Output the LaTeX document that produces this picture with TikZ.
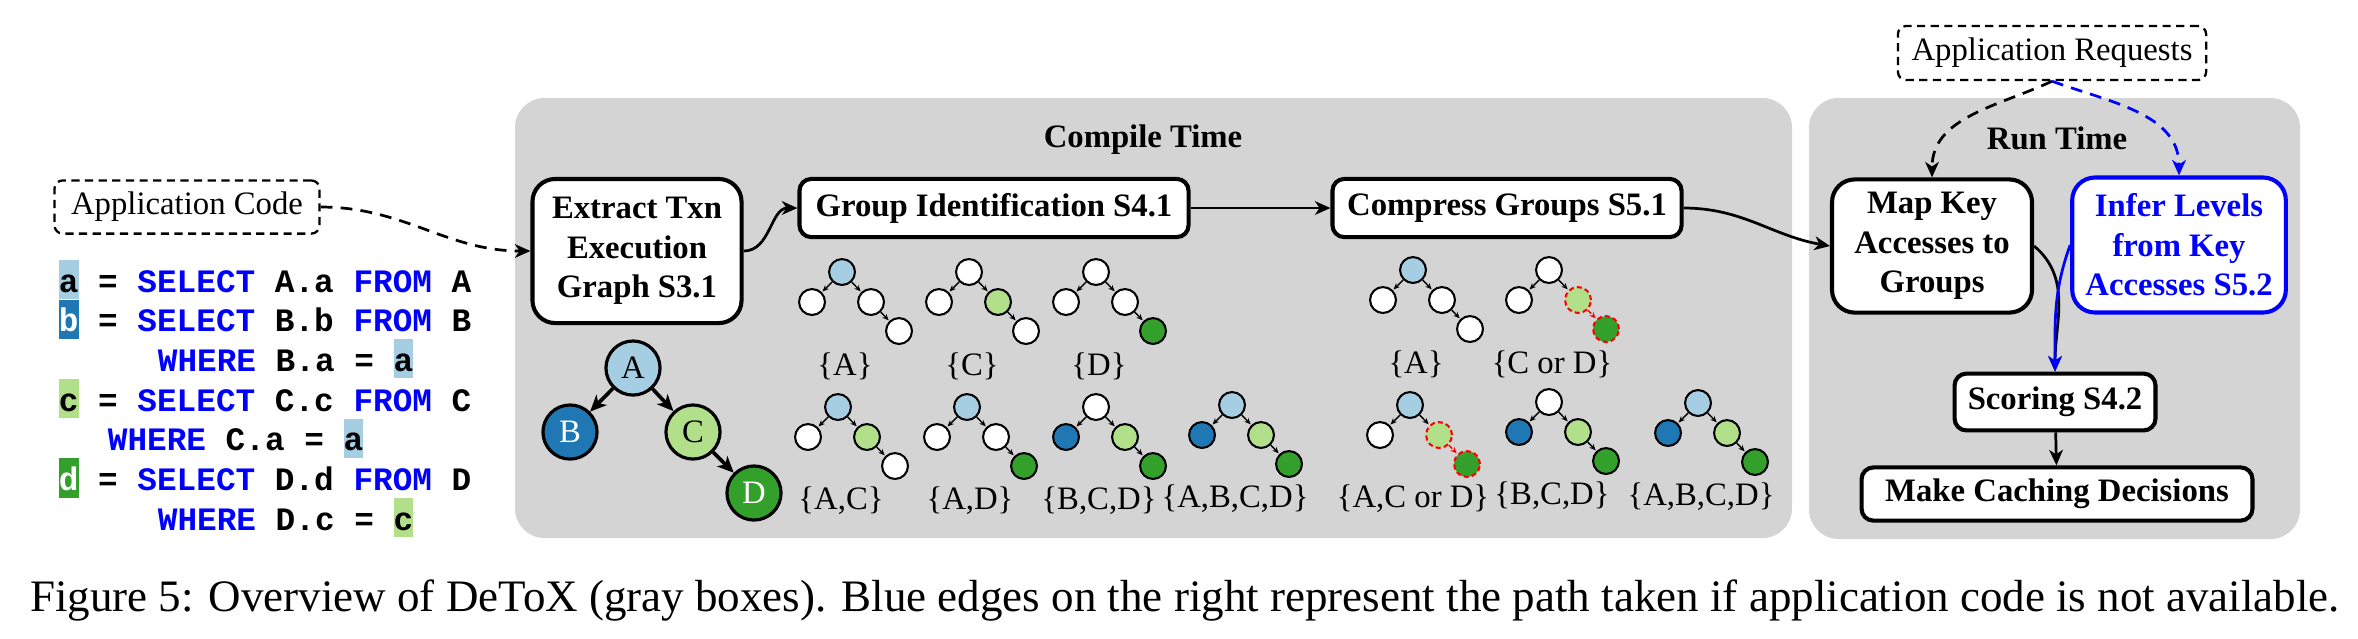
\documentclass[tikz,border=0pt]{standalone}
\usepackage{fontspec}
\setmainfont{Liberation Serif}
\setmonofont{Liberation Mono}
\usetikzlibrary{arrows.meta}

\definecolor{ablue}{HTML}{A6CEE3}
\definecolor{bblue}{HTML}{1F78B4}
\definecolor{cgreen}{HTML}{B2DF8A}
\definecolor{dgreen}{HTML}{33A02C}
\definecolor{panelgray}{HTML}{D4D4D4}

\newcommand{\sqlkw}[1]{\textcolor{blue}{#1}}
\newcommand{\hlbox}[2]{{\setlength{\fboxsep}{0pt}\colorbox{#1}{\rule[-1.55pt]{0pt}{8.6pt}#2}}}

\tikzset{
    stepbox/.style = {draw, line width = 0.9pt, rounded corners = 2.6pt, fill = white,
        align = center, inner sep = 1pt, font = \bfseries\fontsize{7.2}{8.7}\selectfont},
    dashbox/.style = {draw, line width = 0.5pt, dash pattern = on 1.8pt off 1.2pt,
        rounded corners = 1.8pt, fill = white, inner sep = 1pt, font = \fontsize{7.2}{8.7}\selectfont},
    arr/.style = {line width = 0.6pt, -{Stealth[length = 3.4pt, width = 3pt, inset = 1pt]}},
    dasharr/.style = {arr, dash pattern = on 2.6pt off 1.8pt},
    bignode/.style = {circle, draw, line width = 0.7pt, minimum size = 11.9pt, inner sep = 0pt,
        font = \fontsize{7.2}{8.7}\selectfont},
    bigarr/.style = {line width = 0.8pt, -{Stealth[length = 3.6pt, width = 3.2pt, inset = 1pt]}},
    tinynode/.style = {circle, draw, line width = 0.45pt, minimum size = 5.7pt, inner sep = 0pt},
    tinyarr/.style = {line width = 0.3pt, -{Stealth[length = 1.4pt, width = 1.2pt]}, shorten >= 0.2pt},
    solidpart/.style = {},
    mergepart/.style = {draw = red, dash pattern = on 1.1pt off 0.7pt},
    setlabel/.style = {inner sep = 0pt, font = \fontsize{7.2}{8.7}\selectfont},
    code/.style = {anchor = base west, inner sep = 0pt, font = \ttfamily\bfseries\fontsize{7.2}{8.7}\selectfont}
}

\begin{document}
\begin{tikzpicture}[x = 0.22pt, y = -0.22pt]
    \useasboundingbox (0,0) rectangle (2358,638);

    % panels
    \fill[panelgray, rounded corners = 6.5pt] (515,98) rectangle (1792,538);
    \fill[panelgray, rounded corners = 6.5pt] (1809,98) rectangle (2300,539);
    \node[font = \bfseries\fontsize{7.2}{8.7}\selectfont] (ctime) at (1143,140) {Compile Time};
    \node[font = \bfseries\fontsize{7.2}{8.7}\selectfont] (rtime) at (2057,138) {Run Time};

    % application code
    \node[dashbox, minimum width = 58.3pt, minimum height = 11.7pt] (appcode) at (187,207) {Application Code};
    \node[code] (q1) at (58,292) {\hlbox{ablue}{a} = \sqlkw{SELECT} A.a \sqlkw{FROM} A};
    \node[code] (q2) at (58,331.7) {\hlbox{bblue}{\color{white}b} = \sqlkw{SELECT} B.b \sqlkw{FROM} B};
    \node[code] (q3) at (157,371.4) {\sqlkw{WHERE} B.a = \hlbox{ablue}{a}};
    \node[code] (q4) at (58,411.1) {\hlbox{cgreen}{c} = \sqlkw{SELECT} C.c \sqlkw{FROM} C};
    \node[code] (q5) at (107,450.8) {\sqlkw{WHERE} C.a = \hlbox{ablue}{a}};
    \node[code] (q6) at (58,490.5) {\hlbox{dgreen}{\color{white}d} = \sqlkw{SELECT} D.d \sqlkw{FROM} D};
    \node[code] (q7) at (157,530.2) {\sqlkw{WHERE} D.c = \hlbox{cgreen}{c}};

    % compile time steps
    \node[stepbox, rounded corners = 5pt, minimum width = 46pt, minimum height = 31.7pt] (extract) at (637,251)
        {Extract Txn\\Execution\\Graph S3.1};
    \node[stepbox, minimum width = 85.6pt, minimum height = 12.8pt] (group) at (994,208) {Group Identification S4.1};
    \node[stepbox, minimum width = 76.8pt, minimum height = 12.8pt] (compress) at (1507,208) {Compress Groups S5.1};

    % run time steps
    \node[dashbox, minimum width = 67.8pt, minimum height = 11.9pt] (appreq) at (2052,53) {Application Requests};
    \node[stepbox, rounded corners = 5pt, minimum width = 44pt, minimum height = 29.3pt] (mapkey) at (1932,246)
        {Map Key\\Accesses to\\Groups};
    \node[stepbox, rounded corners = 5pt, draw = blue, text = blue, minimum width = 47pt, minimum height = 29.7pt] (infer) at (2179,245)
        {Infer Levels\\from Key\\Accesses S5.2};
    \node[stepbox, minimum width = 44.2pt, minimum height = 12.5pt] (scoring) at (2055,402) {Scoring S4.2};
    \node[stepbox, minimum width = 86pt, minimum height = 11.7pt] (caching) at (2057,494) {Make Caching Decisions};

    % connectors
    \draw[dasharr] (appcode.east) to[out = 0, in = 180] (extract.west);
    \draw[arr] (extract.east) to[out = 0, in = 180] (group.west);
    \draw[arr] (group) -- (compress);
    \draw[arr] (compress.east) to[out = 0, in = 170] (mapkey.west);
    \draw[dasharr] (appreq.south) to[out = 205, in = 90] (mapkey.north);
    \draw[dasharr, blue] (appreq.south) to[out = -20, in = 90] (infer.north);
    \draw[arr] (mapkey.east) to[out = -40, in = 90] (scoring.north);
    \draw[arr, blue] (infer.west) to[out = -110, in = 90] (scoring.north);
    \draw[arr] (scoring) -- (caching);

    % execution graph
    \node[bignode, fill = ablue] (ta) at (633,368) {A};
    \node[bignode, fill = bblue, text = white] (tb) at (570,432) {B};
    \node[bignode, fill = cgreen] (tc) at (693,432) {C};
    \node[bignode, fill = dgreen, text = white] (td) at (754,493) {D};
    \draw[bigarr] (ta) -- (tb);
    \draw[bigarr] (ta) -- (tc);
    \draw[bigarr] (tc) -- (td);

    % groups
    \foreach \tx/\ty/\fa/\fb/\fc/\fd/\sty/\lbl [count = \i] in {
        842/272/ablue/white/white/white/solidpart/{\{A\}},
        969/272/white/white/cgreen/white/solidpart/{\{C\}},
        1096/272/white/white/white/dgreen/solidpart/{\{D\}},
        838/407/ablue/white/cgreen/white/solidpart/{\{A,C\}},
        967/407/ablue/white/white/dgreen/solidpart/{\{A,D\}},
        1096/407/white/bblue/cgreen/dgreen/solidpart/{\{B,C,D\}},
        1232/405/ablue/bblue/cgreen/dgreen/solidpart/{\{A,B,C,D\}},
        1413/270/ablue/white/white/white/solidpart/{\{A\}},
        1549/270/white/white/cgreen/dgreen/mergepart/{\{C or D\}},
        1410/405/ablue/white/cgreen/dgreen/mergepart/{\{A,C or D\}},
        1549/402/white/bblue/cgreen/dgreen/solidpart/{\{B,C,D\}},
        1698/403/ablue/bblue/cgreen/dgreen/solidpart/{\{A,B,C,D\}}} {
        \node[tinynode, fill = \fa] (r\i) at (\tx,\ty) {};
        \node[tinynode, fill = \fb] (l\i) at (\tx-30,\ty+30) {};
        \node[tinynode, fill = \fc, \sty] (c\i) at (\tx+29,\ty+30) {};
        \node[tinynode, fill = \fd, \sty] (d\i) at (\tx+57,\ty+59) {};
        \draw[tinyarr] (r\i) -- (l\i);
        \draw[tinyarr] (r\i) -- (c\i);
        \draw[tinyarr, \sty] (c\i) -- (d\i);
        \node[setlabel] (s\i) at (\tx+3,\ty+94) {\lbl};
    }

    % caption
    \node[font = \fontsize{9.9}{11.5}\selectfont] (caption) at (1185,600)
        {Figure 5: Overview of DeToX (gray boxes). Blue edges on the right represent the path taken if application code is not available.};
\end{tikzpicture}
\end{document}
